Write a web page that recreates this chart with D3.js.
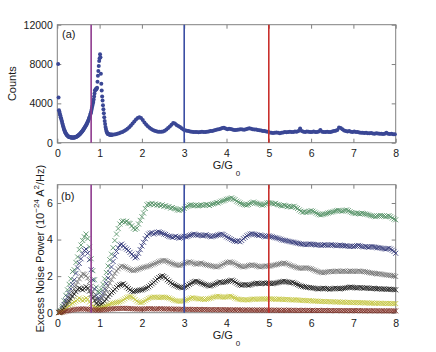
<!DOCTYPE html>
<html>
<head>
<meta charset="utf-8">
<script src="https://cdn.jsdelivr.net/npm/d3@7"></script>
<style>
body { margin: 0; background: #fff; }
svg { display: block; font-family: "Liberation Sans", Arial, sans-serif; }
.tick text { font-size: 10.5px; fill: #1a1a1a; }
.tick line { stroke: #808080; }
.label { font-size: 11px; fill: #1a1a1a; }
</style>
</head>
<body>
<svg width="436" height="352"></svg>
<script>
var xTicks = [0, 1, 2, 3, 4, 5, 6, 7, 8];
var countTicks = [0, 4000, 8000, 12000];
var noiseTicks = [0, 2, 4, 6];
var markerG = [0.8, 3, 5];
var markerColors = ["#8e3a8e", "#3b4ea3", "#c9302c"];

// counts, G = 0.02 .. 1.30 step 0.01
var countsFine = [
    8000, 4600, 3300, 3150, 2950, 2800, 2600, 2450, 2300, 2150, 1950, 1800, 1650, 1500, 1380, 1250, 1150, 1050, 960,
    880, 820, 760, 720, 680, 640, 610, 590, 570, 560, 550, 540, 530, 525, 520, 520, 515, 520, 525, 530,
    540, 550, 565, 580, 600, 620, 650, 680, 710, 750, 790, 830, 870, 910, 960, 1010, 1060, 1110, 1170, 1230,
    1290, 1350, 1420, 1490, 1560, 1630, 1700, 1780, 1860, 1950, 2040, 2130, 2230, 2340, 2450, 2570, 2700, 2840, 3000, 3150,
    3350, 3550, 3750, 3950, 4150, 4400, 4700, 5000, 5300, 5350, 5450, 5400, 5500, 5600, 6200, 6800, 7300, 7800, 8300, 8600,
    9000, 8700, 7000, 6000, 5300, 4700, 4300, 3800, 3400, 3000, 2600, 2200, 1900, 1600, 1400, 1200, 1080, 980, 920, 880,
    860, 850, 840, 830, 820, 820, 810, 820, 830, 820
];
// counts, G = 1.34 .. 7.98 step 0.04
var countsCoarse = [
    830, 860, 900, 960, 1030, 1100, 1180, 1280, 1420, 1580, 1750, 1950, 2150, 2350, 2500, 2580, 2520,
    2300, 2050, 1850, 1680, 1520, 1400, 1300, 1220, 1160, 1120, 1110, 1120, 1150, 1220, 1350, 1500, 1650, 1820, 2000, 1950, 1800, 1700, 1600, 1480, 1350,
    1260, 1220, 1180, 1150, 1120, 1100, 1080, 1100, 1060, 1090, 1120, 1100, 1080, 1120, 1150, 1180, 1200, 1250, 1300, 1350, 1380, 1420, 1500, 1520, 1450,
    1380, 1420, 1400, 1350, 1300, 1280, 1320, 1350, 1380, 1350, 1320, 1380, 1420, 1460, 1420, 1380, 1350, 1330, 1300, 1260, 1230, 1200, 1180, 1150, 1120,
    1050, 1000, 980, 1020, 1050, 1000, 960, 1000, 1050, 1080, 1060, 1100, 1120, 1080, 1100, 1150, 1120, 1180, 1450, 1200, 1120, 1100, 1150, 1120, 1080,
    1100, 1130, 1080, 1100, 1150, 1300, 1120, 1080, 1100, 1120, 1080, 1100, 1150, 1180, 1220, 1300, 1550, 1500, 1380, 1250, 1200, 1150, 1180, 1120, 1100,
    1150, 1100, 1080, 1050, 1020, 1000, 980, 1000, 960, 950, 980, 940, 920, 950, 930, 900, 920, 890, 900, 1000, 920, 880, 900, 870, 860
];

// excess noise power (1e-24 A^2/Hz), G = 0.04 .. 8.00 step 0.04
var noiseGreen = [
    0.02, 0.10, 0.35, 0.65, 0.95, 1.25, 1.55, 1.85, 2.25, 2.35, 2.75, 3.05, 3.45, 3.70, 3.95, 4.15, 4.30, 4.05, 3.60, 2.95, 2.30, 1.80, 1.40, 1.15, 1.10,
    1.30, 1.55, 1.85, 2.20, 2.55, 2.90, 3.20, 3.55, 3.95, 4.30, 4.60, 4.85, 4.98, 5.02, 4.95, 5.00, 4.90, 4.88, 4.75, 4.62, 4.55, 4.62, 4.85, 5.05, 5.25,
    5.45, 5.70, 5.90, 5.95, 5.92, 5.98, 5.90, 5.95, 5.88, 5.92, 5.85, 5.90, 5.82, 5.85, 5.78, 5.80, 5.72, 5.75, 5.70, 5.68, 5.62, 5.60, 5.65, 5.62, 5.70,
    5.78, 5.82, 5.88, 5.90, 5.88, 5.85, 5.88, 5.84, 5.87, 5.90, 5.86, 5.88, 5.92, 5.90, 5.86, 5.92, 5.95, 5.98, 6.02, 6.00, 6.05, 6.10, 6.12, 6.15, 6.20,
    6.22, 6.25, 6.28, 6.22, 6.18, 6.10, 6.05, 6.00, 5.95, 5.92, 5.90, 5.88, 5.92, 5.98, 6.02, 6.05, 6.00, 5.98, 5.95, 5.92, 5.88, 5.90, 5.95, 6.00, 6.02,
    6.00, 5.98, 5.95, 5.98, 5.92, 5.90, 5.86, 5.84, 5.88, 5.85, 5.80, 5.82, 5.78, 5.80, 5.82, 5.75, 5.70, 5.62, 5.55, 5.50, 5.52, 5.48, 5.50, 5.55, 5.58,
    5.55, 5.50, 5.45, 5.40, 5.36, 5.35, 5.38, 5.40, 5.42, 5.45, 5.48, 5.50, 5.52, 5.55, 5.58, 5.60, 5.58, 5.55, 5.56, 5.60, 5.62, 5.58, 5.52, 5.48, 5.45,
    5.42, 5.45, 5.42, 5.40, 5.44, 5.42, 5.40, 5.38, 5.35, 5.32, 5.30, 5.28, 5.25, 5.28, 5.30, 5.32, 5.30, 5.28, 5.25, 5.28, 5.30, 5.25, 5.18, 5.12, 5.08
];
var noiseNavy = [
    0.02, 0.08, 0.25, 0.45, 0.65, 0.85, 1.05, 1.30, 1.55, 1.80, 2.15, 2.45, 2.70, 2.95, 3.20, 3.40, 3.48, 3.25, 2.90, 2.35, 1.80, 1.30, 0.95, 0.75, 0.72,
    0.85, 1.05, 1.30, 1.60, 1.90, 2.20, 2.50, 2.80, 3.10, 3.35, 3.55, 3.70, 3.75, 3.65, 3.55, 3.48, 3.40, 3.30, 3.20, 3.10, 3.00, 3.05, 3.25, 3.45, 3.65,
    3.85, 4.05, 4.20, 4.30, 4.35, 4.38, 4.30, 4.35, 4.40, 4.42, 4.38, 4.35, 4.30, 4.28, 4.22, 4.18, 4.15, 4.12, 4.15, 4.18, 4.12, 4.08, 4.10, 4.15, 4.18,
    4.15, 4.18, 4.22, 4.25, 4.28, 4.30, 4.26, 4.24, 4.25, 4.22, 4.20, 4.24, 4.26, 4.22, 4.18, 4.15, 4.18, 4.20, 4.22, 4.25, 4.28, 4.30, 4.28, 4.22, 4.15,
    4.10, 4.05, 4.00, 3.95, 3.92, 3.90, 3.92, 3.88, 3.95, 4.05, 4.12, 4.20, 4.25, 4.30, 4.32, 4.30, 4.28, 4.25, 4.22, 4.25, 4.22, 4.18, 4.15, 4.18, 4.20,
    4.18, 4.15, 4.12, 4.10, 4.08, 4.05, 4.02, 3.98, 3.96, 3.95, 3.92, 3.90, 3.88, 3.86, 3.85, 3.82, 3.80, 3.78, 3.76, 3.75, 3.74, 3.72, 3.74, 3.76, 3.75,
    3.74, 3.72, 3.70, 3.72, 3.70, 3.68, 3.70, 3.72, 3.70, 3.68, 3.70, 3.72, 3.70, 3.68, 3.66, 3.68, 3.70, 3.68, 3.66, 3.65, 3.66, 3.64, 3.62, 3.64, 3.62,
    3.64, 3.66, 3.68, 3.65, 3.62, 3.60, 3.62, 3.60, 3.58, 3.60, 3.62, 3.60, 3.58, 3.55, 3.56, 3.54, 3.52, 3.50, 3.48, 3.50, 3.52, 3.48, 3.42, 3.35, 3.25
];
var noiseGray = [
    0.01, 0.06, 0.18, 0.32, 0.48, 0.62, 0.78, 0.95, 1.12, 1.30, 1.50, 1.68, 1.85, 2.00, 2.12, 2.10, 2.02, 1.90, 1.70, 1.45, 1.15, 0.90, 0.72, 0.62, 0.65,
    0.75, 0.90, 1.08, 1.26, 1.45, 1.62, 1.80, 1.98, 2.15, 2.28, 2.40, 2.50, 2.55, 2.52, 2.50, 2.45, 2.40, 2.35, 2.32, 2.30, 2.32, 2.35, 2.38, 2.42, 2.45,
    2.48, 2.50, 2.52, 2.55, 2.58, 2.62, 2.66, 2.70, 2.74, 2.78, 2.82, 2.85, 2.86, 2.84, 2.80, 2.76, 2.72, 2.68, 2.65, 2.62, 2.60, 2.58, 2.60, 2.64, 2.68,
    2.72, 2.75, 2.78, 2.76, 2.72, 2.68, 2.65, 2.66, 2.70, 2.72, 2.68, 2.64, 2.62, 2.60, 2.58, 2.56, 2.54, 2.52, 2.50, 2.52, 2.55, 2.60, 2.65, 2.70, 2.74,
    2.76, 2.78, 2.76, 2.72, 2.68, 2.62, 2.58, 2.55, 2.52, 2.50, 2.52, 2.55, 2.58, 2.60, 2.62, 2.60, 2.58, 2.55, 2.52, 2.50, 2.52, 2.54, 2.56, 2.55, 2.54,
    2.55, 2.58, 2.60, 2.62, 2.64, 2.66, 2.68, 2.70, 2.72, 2.70, 2.66, 2.62, 2.58, 2.55, 2.52, 2.48, 2.46, 2.44, 2.42, 2.43, 2.45, 2.46, 2.44, 2.42, 2.40,
    2.36, 2.32, 2.28, 2.25, 2.22, 2.20, 2.18, 2.20, 2.22, 2.24, 2.26, 2.25, 2.24, 2.26, 2.28, 2.27, 2.25, 2.26, 2.28, 2.27, 2.25, 2.26, 2.28, 2.27, 2.26,
    2.25, 2.26, 2.28, 2.27, 2.25, 2.26, 2.24, 2.22, 2.20, 2.18, 2.17, 2.16, 2.14, 2.12, 2.13, 2.12, 2.10, 2.08, 2.07, 2.06, 2.05, 2.04, 2.03, 2.00, 1.98
];
var noiseBlack = [
    0.01, 0.05, 0.14, 0.24, 0.36, 0.48, 0.62, 0.76, 0.90, 1.02, 1.15, 1.28, 1.35, 1.30, 1.25, 1.32, 1.42, 1.35, 1.18, 1.00, 0.82, 0.65, 0.50, 0.42, 0.40,
    0.45, 0.52, 0.62, 0.75, 0.88, 1.00, 1.10, 1.18, 1.28, 1.38, 1.46, 1.52, 1.55, 1.58, 1.50, 1.40, 1.32, 1.25, 1.18, 1.15, 1.18, 1.20, 1.22, 1.24, 1.25,
    1.28, 1.32, 1.36, 1.42, 1.50, 1.58, 1.66, 1.75, 1.84, 1.92, 1.98, 2.02, 1.98, 1.90, 1.80, 1.72, 1.65, 1.58, 1.52, 1.48, 1.44, 1.40, 1.38, 1.36, 1.38,
    1.42, 1.48, 1.55, 1.60, 1.66, 1.70, 1.72, 1.70, 1.66, 1.62, 1.58, 1.55, 1.52, 1.48, 1.46, 1.48, 1.52, 1.56, 1.60, 1.64, 1.68, 1.66, 1.65, 1.68, 1.70,
    1.72, 1.75, 1.78, 1.74, 1.68, 1.62, 1.56, 1.52, 1.50, 1.52, 1.54, 1.52, 1.50, 1.52, 1.55, 1.58, 1.60, 1.62, 1.60, 1.58, 1.60, 1.62, 1.60, 1.62, 1.62,
    1.60, 1.58, 1.60, 1.62, 1.64, 1.66, 1.68, 1.70, 1.72, 1.70, 1.68, 1.66, 1.64, 1.66, 1.62, 1.58, 1.54, 1.50, 1.46, 1.44, 1.42, 1.40, 1.38, 1.38, 1.36,
    1.35, 1.34, 1.32, 1.30, 1.30, 1.32, 1.34, 1.33, 1.32, 1.30, 1.28, 1.30, 1.32, 1.34, 1.33, 1.31, 1.30, 1.32, 1.34, 1.35, 1.36, 1.38, 1.40, 1.40, 1.38,
    1.36, 1.35, 1.36, 1.38, 1.36, 1.34, 1.35, 1.36, 1.34, 1.32, 1.33, 1.34, 1.32, 1.30, 1.31, 1.30, 1.29, 1.30, 1.29, 1.28, 1.29, 1.28, 1.27, 1.26, 1.25
];
var noiseYellow = [
    0.00, 0.03, 0.08, 0.14, 0.22, 0.30, 0.38, 0.45, 0.52, 0.58, 0.64, 0.72, 0.80, 0.72, 0.66, 0.72, 0.80, 0.74, 0.58, 0.48, 0.38, 0.30, 0.24, 0.22, 0.24,
    0.26, 0.30, 0.34, 0.38, 0.42, 0.46, 0.50, 0.52, 0.54, 0.56, 0.58, 0.60, 0.64, 0.70, 0.76, 0.82, 0.86, 0.88, 0.86, 0.80, 0.72, 0.64, 0.58, 0.55, 0.56,
    0.60, 0.66, 0.72, 0.78, 0.82, 0.84, 0.86, 0.85, 0.84, 0.82, 0.84, 0.86, 0.85, 0.84, 0.82, 0.80, 0.76, 0.72, 0.68, 0.66, 0.64, 0.62, 0.62, 0.64, 0.66,
    0.68, 0.72, 0.76, 0.80, 0.82, 0.80, 0.78, 0.76, 0.75, 0.76, 0.74, 0.72, 0.74, 0.76, 0.78, 0.80, 0.84, 0.86, 0.88, 0.90, 0.88, 0.86, 0.84, 0.85, 0.86,
    0.88, 0.90, 0.88, 0.84, 0.80, 0.76, 0.74, 0.72, 0.72, 0.70, 0.71, 0.70, 0.70, 0.72, 0.74, 0.75, 0.74, 0.73, 0.74, 0.75, 0.76, 0.75, 0.74, 0.75, 0.76,
    0.76, 0.75, 0.74, 0.73, 0.74, 0.75, 0.74, 0.72, 0.71, 0.72, 0.73, 0.72, 0.70, 0.69, 0.70, 0.71, 0.70, 0.68, 0.67, 0.68, 0.67, 0.66, 0.65, 0.66, 0.65,
    0.64, 0.63, 0.64, 0.63, 0.62, 0.61, 0.62, 0.61, 0.60, 0.61, 0.60, 0.59, 0.60, 0.59, 0.58, 0.59, 0.58, 0.57, 0.58, 0.57, 0.56, 0.57, 0.56, 0.55, 0.56,
    0.55, 0.56, 0.55, 0.54, 0.55, 0.54, 0.53, 0.54, 0.53, 0.52, 0.53, 0.52, 0.51, 0.52, 0.51, 0.52, 0.51, 0.50, 0.51, 0.50, 0.51, 0.50, 0.50, 0.49, 0.50
];
var noiseRed = [
    0.00, 0.01, 0.03, 0.05, 0.08, 0.10, 0.12, 0.14, 0.16, 0.17, 0.18, 0.19, 0.20, 0.20, 0.21, 0.20, 0.20, 0.19, 0.18, 0.17, 0.16, 0.15, 0.14, 0.14, 0.15,
    0.15, 0.16, 0.17, 0.18, 0.19, 0.20, 0.21, 0.21, 0.22, 0.22, 0.23, 0.23, 0.24, 0.24, 0.24, 0.23, 0.23, 0.22, 0.22, 0.21, 0.21, 0.20, 0.20, 0.20, 0.20,
    0.20, 0.21, 0.21, 0.22, 0.22, 0.21, 0.21, 0.20, 0.21, 0.21, 0.22, 0.21, 0.20, 0.20, 0.21, 0.20, 0.20, 0.19, 0.20, 0.19, 0.19, 0.18, 0.19, 0.19, 0.18,
    0.18, 0.19, 0.18, 0.18, 0.17, 0.18, 0.18, 0.17, 0.18, 0.17, 0.17, 0.18, 0.17, 0.17, 0.16, 0.17, 0.17, 0.16, 0.17, 0.17, 0.16, 0.16, 0.17, 0.16, 0.16,
    0.16, 0.16, 0.15, 0.16, 0.15, 0.15, 0.16, 0.15, 0.15, 0.14, 0.15, 0.15, 0.14, 0.15, 0.15, 0.14, 0.14, 0.15, 0.14, 0.14, 0.15, 0.14, 0.14, 0.14, 0.14,
    0.14, 0.13, 0.14, 0.14, 0.13, 0.14, 0.13, 0.13, 0.14, 0.13, 0.13, 0.14, 0.13, 0.13, 0.13, 0.12, 0.13, 0.13, 0.12, 0.13, 0.13, 0.12, 0.13, 0.12, 0.12,
    0.13, 0.12, 0.12, 0.13, 0.12, 0.12, 0.12, 0.13, 0.12, 0.12, 0.11, 0.12, 0.12, 0.12, 0.11, 0.12, 0.12, 0.11, 0.12, 0.11, 0.11, 0.12, 0.11, 0.11, 0.12,
    0.11, 0.11, 0.12, 0.11, 0.11, 0.11, 0.10, 0.11, 0.11, 0.10, 0.11, 0.11, 0.10, 0.11, 0.10, 0.10, 0.11, 0.10, 0.10, 0.10, 0.11, 0.10, 0.10, 0.10, 0.10
];
var noiseSeries = [noiseGreen, noiseNavy, noiseGray, noiseBlack, noiseYellow, noiseRed];
var noiseColors = ["#4b8c5e", "#272e72", "#707070", "#161616", "#c2c43a", "#7c281d"];

function grid(start, step, n) {
    return d3.range(n).map(function (i) {
        return +(start + i * step).toFixed(2);
    });
}

var gFine = grid(0.02, 0.01, countsFine.length);
var gCoarse = grid(1.34, 0.04, countsCoarse.length);
var gNoise = grid(0.04, 0.04, noiseGreen.length);

var svg = d3.select("svg");
var x = d3.scaleLinear().domain([0, 8]).range([57.3, 395.7]);
var yCounts = d3.scaleLinear().domain([0, 12000]).range([142.7, 24.7]);
var yNoise = d3.scaleLinear().domain([0, 7]).range([312.7, 184.7]);

function drawAxes(y, yTickValues) {
    var top = y.range()[1];
    var bottom = y.range()[0];
    var g = svg.append("g");

    g.append("g")
        .attr("transform", "translate(0," + bottom + ")")
        .call(d3.axisBottom(x).tickValues(xTicks).tickSizeInner(-4).tickSizeOuter(0)
            .tickPadding(7).tickFormat(d3.format("d")));
    g.append("g")
        .attr("transform", "translate(0," + top + ")")
        .call(d3.axisTop(x).tickValues(xTicks).tickSizeInner(-4).tickSizeOuter(0).tickFormat(""));
    g.append("g")
        .attr("transform", "translate(" + x.range()[0] + ",0)")
        .call(d3.axisLeft(y).tickValues(yTickValues).tickSizeInner(-4).tickSizeOuter(0)
            .tickPadding(4.5).tickFormat(d3.format("d")));
    g.append("g")
        .attr("transform", "translate(" + x.range()[1] + ",0)")
        .call(d3.axisRight(y).tickValues(yTickValues).tickSizeInner(-4).tickSizeOuter(0).tickFormat(""));
    g.selectAll(".domain").remove();
    g.selectAll(".tick text").attr("font-family", null).attr("font-size", null);

    g.append("rect")
        .attr("x", x.range()[0])
        .attr("y", top)
        .attr("width", x.range()[1] - x.range()[0])
        .attr("height", bottom - top)
        .attr("fill", "none")
        .attr("stroke", "#808080")
        .attr("stroke-width", 1);
}

function drawMarkerLines(y) {
    svg.append("g")
        .selectAll("line")
        .data(markerG)
        .join("line")
        .attr("x1", function (d) { return x(d); })
        .attr("x2", function (d) { return x(d); })
        .attr("y1", y.range()[0])
        .attr("y2", y.range()[1])
        .attr("stroke", function (d, i) { return markerColors[i]; })
        .attr("stroke-width", 1.6);
}

function drawXLabel(baseline) {
    var t = svg.append("text")
        .attr("class", "label")
        .attr("x", x(4))
        .attr("y", baseline)
        .attr("text-anchor", "middle");
    t.append("tspan").text("G/G");
    t.append("tspan").attr("dx", 3).attr("dy", 6.5).attr("font-size", "8px").text("0");
}

// panel (a)
drawAxes(yCounts, countTicks);

var countPoints = d3.zip(gFine, countsFine).concat(d3.zip(gCoarse, countsCoarse));
svg.append("g")
    .selectAll("circle")
    .data(countPoints)
    .join("circle")
    .attr("cx", function (d) { return x(d[0]); })
    .attr("cy", function (d) { return yCounts(d[1]); })
    .attr("r", 2)
    .attr("fill", "#3a4795");

drawMarkerLines(yCounts);

svg.append("text").attr("class", "label").attr("x", 62).attr("y", 38).text("(a)");
svg.append("text")
    .attr("class", "label")
    .attr("transform", "translate(16," + (24.7 + 142.7) / 2 + ") rotate(-90)")
    .attr("text-anchor", "middle")
    .text("Counts");
drawXLabel(169);

// panel (b)
drawAxes(yNoise, noiseTicks);

var crossPath = "M-2.5,-2.5L2.5,2.5M-2.5,2.5L2.5,-2.5";
noiseSeries.forEach(function (values, si) {
    svg.append("g")
        .attr("stroke", noiseColors[si])
        .attr("stroke-width", 0.9)
        .attr("stroke-opacity", 0.9)
        .attr("fill", "none")
        .selectAll("path")
        .data(d3.zip(gNoise, values))
        .join("path")
        .attr("d", crossPath)
        .attr("transform", function (d) {
            return "translate(" + x(d[0]) + "," + yNoise(d[1]) + ")";
        });
});

drawMarkerLines(yNoise);

svg.append("text").attr("class", "label").attr("x", 61).attr("y", 200).text("(b)");
var yLab = svg.append("text")
    .attr("class", "label")
    .attr("transform", "translate(43.5," + (184.7 + 312.7) / 2 + ") rotate(-90)")
    .attr("text-anchor", "middle");
yLab.append("tspan").text("Excess Noise Power (10");
yLab.append("tspan").attr("dy", -4.5).attr("font-size", "8px").text("\u221224");
yLab.append("tspan").attr("dy", 4.5).text(" A");
yLab.append("tspan").attr("dy", -4.5).attr("font-size", "8px").text("2");
yLab.append("tspan").attr("dy", 4.5).text("/Hz)");
drawXLabel(339);
</script>
</body>
</html>
